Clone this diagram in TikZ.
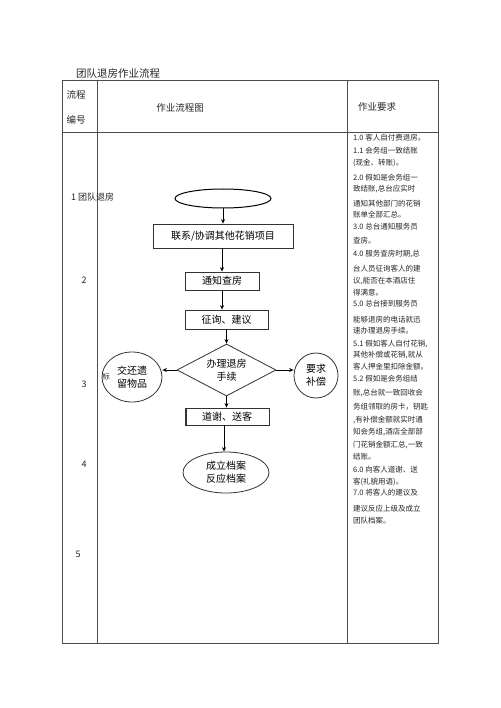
\documentclass[tikz,border=0pt]{standalone}
\usepackage{fontspec}
\setmainfont{Noto Sans CJK SC}
\usetikzlibrary{shapes.geometric,arrows.meta}
\begin{document}
\begin{tikzpicture}[x=1pt,y=-1pt,
  grid/.style={draw=black!70,line width=0.8pt},
  flowbox/.style={draw=black!80,line width=0.8pt,rectangle,inner sep=0pt,font=\fontsize{10}{12}\selectfont},
  flowell/.style={draw=black!80,line width=0.8pt,ellipse,inner sep=0pt,align=center,font=\fontsize{10}{13}\selectfont},
  flowdia/.style={draw=black!80,line width=0.8pt,diamond,inner sep=0pt,aspect=1.9,align=center,font=\fontsize{10}{13}\selectfont},
  flowarr/.style={draw=black,line width=0.8pt,-{Stealth[length=4.5pt,width=4pt]}},
  reqtext/.style={anchor=west,inner sep=0pt,font=\fontsize{7.5}{9}\selectfont,text=black!85},
  headtext/.style={inner sep=0pt,font=\fontsize{9.5}{11}\selectfont,text=black!85},
  numtext/.style={inner sep=0pt,font=\fontsize{9}{11}\selectfont,text=black!85}
]
\useasboundingbox (0,0) rectangle (500,708);
\fill[white] (0,0) rectangle (500,708);

% top terminal ellipse
\node[flowell,line width=1pt,draw=black,minimum width=96pt,minimum height=19pt] (topell) at (223,198.5) {\phantom{X}};

% title
\node[anchor=west,inner sep=0pt,font=\fontsize{10.5}{12}\selectfont,text=black!85] (title) at (76,74) {团队退房作业流程};

% table grid
\draw[grid] (62,80) rectangle (438,643);
\draw[grid] (97,80) -- (97,643);
\draw[grid] (347,80) -- (347,643);
\draw[grid] (62,132) -- (438,132);

% header
\node[headtext] (h1a) at (76,95) {流程};
\node[headtext] (h1b) at (76,120) {编号};
\node[headtext] (h2) at (180,108) {作业流程图};
\node[headtext] (h3) at (377,107) {作业要求};

% left column numbers
\node[numtext,anchor=west] (n1) at (71,197) {1 团队退房};
\node[numtext] (n2) at (84,280) {2};
\node[numtext] (n3) at (84,384) {3};
\node[numtext] (n4) at (84,464) {4};
\node[numtext] (n5) at (78,554) {5};

% flowchart
\node[flowbox,minimum width=140pt,minimum height=24pt] (b1) at (223,236) {联系/协调其他花销项目};
\node[flowbox,minimum width=74pt,minimum height=18pt] (b2) at (222,281) {通知查房};
\node[flowbox,minimum width=83pt,minimum height=19pt] (b3) at (226.5,319.5) {征询、建议};
\node[flowdia,minimum width=99pt,minimum height=52pt] (d) at (226.5,370) {办理退房\\手续};
\node[flowell,minimum width=60pt,minimum height=50pt] (le) at (132,377) {交还遗\\留物品};
\node[flowell,minimum width=44pt,minimum height=45pt] (re) at (316,375.5) {要求\\补偿};
\node[flowbox,minimum width=84pt,minimum height=17pt] (b4) at (227,416.5) {\raisebox{-4pt}{道谢、送客}};
\draw[black!80,line width=0.8pt] ([xshift=2pt]b4.north west) -- ([xshift=2pt]b4.south west);
\node[flowell,minimum width=86pt,minimum height=41pt] (endn) at (226,472.5) {成立档案\\反应档案};
\node[inner sep=0pt,font=\fontsize{7.5}{9}\selectfont,text=black!85] (stray) at (106,377) {标};

\draw[flowarr] (topell.south) -- (b1.north);
\draw[flowarr] (b1.south -| b2.north) -- (b2.north);
\draw[flowarr] (b2.south) -- (b2.south |- b3.north);
\draw[flowarr] (b3.south) -- (d.north);
\draw[flowarr] (d.west) -- (le.east |- d.west);
\draw[flowarr] (d.east) -- (re.west |- d.east);
\draw[flowarr] (d.south) -- (b4.north -| d.south);
\draw[flowarr] ([xshift=-3pt]b4.south) -- ([xshift=-2pt]endn.north);

% requirement texts
\node[reqtext] (r1) at (353,138) {1.0 客人自付费退房。};
\node[reqtext] (r2) at (353,151) {1.1 会务组一致结账};
\node[reqtext] (r3) at (353,163) {(现金、转账)。};
\node[reqtext] (r4) at (353,178) {2.0 假如是会务组一};
\node[reqtext] (r5) at (353,189) {致结账,总台应实时};
\node[reqtext] (r6) at (353,204) {通知其他部门的花销};
\node[reqtext] (r7) at (353,215) {账单全部汇总。};
\node[reqtext] (r8) at (353,227) {3.0 总台通知服务员};
\node[reqtext] (r9) at (353,241) {查房。};
\node[reqtext] (r10) at (353,254) {4.0 服务查房时期,总};
\node[reqtext] (r11) at (353,269) {台人员征询客人的建};
\node[reqtext] (r12) at (353,281) {议,能否在本酒店住};
\node[reqtext] (r13) at (353,293) {得满意。};
\node[reqtext] (r14) at (353,304) {5.0 总台接到服务员};
\node[reqtext] (r15) at (353,320) {能够退房的电话就迅};
\node[reqtext] (r16) at (353,331) {速办理退房手续。};
\node[reqtext] (r17) at (353,344) {5.1 假如客人自付花销,};
\node[reqtext] (r18) at (353,355) {其他补偿或花销,就从};
\node[reqtext] (r19) at (353,367) {客人押金里扣除金额。};
\node[reqtext] (r20) at (353,379) {5.2 假如是会务组结};
\node[reqtext] (r21) at (353,393) {账,总台就一致回收会};
\node[reqtext] (r22) at (353,407) {务组领取的房卡，钥匙};
\node[reqtext] (r23) at (353,420) {,有补偿金额就实时通};
\node[reqtext] (r24) at (353,432) {知会务组,酒店全部部};
\node[reqtext] (r25) at (353,445) {门花销金额汇总,一致};
\node[reqtext] (r26) at (353,457) {结账。};
\node[reqtext] (r27) at (353,470) {6.0 向客人道谢、送};
\node[reqtext] (r28) at (353,482) {客(礼貌用语)。};
\node[reqtext] (r29) at (353,493) {7.0 将客人的建议及};
\node[reqtext] (r30) at (353,509) {建议反应上级及成立};
\node[reqtext] (r31) at (353,521) {团队档案。};
\end{tikzpicture}
\end{document}
